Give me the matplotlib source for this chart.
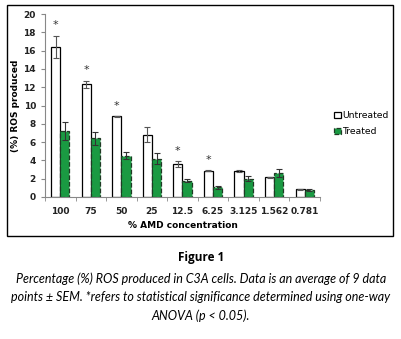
import matplotlib
matplotlib.use("Agg")
import matplotlib.pyplot as plt
import numpy as np
from matplotlib.patches import Rectangle

categories = ["100", "75", "50", "25", "12.5", "6.25", "3.125", "1.562", "0.781"]
untreated = [16.4, 12.3, 8.8, 6.8, 3.6, 2.85, 2.85, 2.15, 0.85]
untreated_err = [1.2, 0.4, 0.05, 0.8, 0.3, 0.05, 0.1, 0.05, 0.05]
treated = [7.2, 6.4, 4.5, 4.2, 1.8, 1.05, 2.0, 2.6, 0.75]
treated_err = [1.0, 0.7, 0.4, 0.6, 0.15, 0.2, 0.3, 0.45, 0.1]
significant = [True, True, True, False, True, True, False, False, False]

fig = plt.figure(figsize=(4.02, 3.39), dpi=100)

# outer frame
fig.patches.append(Rectangle((7/402, 1-236/339), 386/402, 231/339, transform=fig.transFigure,
                             fill=False, edgecolor="black", linewidth=1.0))

ax = fig.add_axes([45/402, 1-197/339, 275/402, 183/339])
x = np.arange(len(categories))
w = 0.3
ax.bar(x - w/2, untreated, w, color="white", edgecolor="black", linewidth=0.9,
       yerr=untreated_err, error_kw=dict(ecolor="#555555", elinewidth=0.8, capsize=2, capthick=0.8),
       label="Untreated")
ax.bar(x + w/2, treated, w, color="#1a9a42", edgecolor="#1f3a24", linewidth=0.9, linestyle="--",
       yerr=treated_err, error_kw=dict(ecolor="#333333", elinewidth=0.8, capsize=2, capthick=0.8),
       label="Treated")
for i, s in enumerate(significant):
    if s:
        ax.text(x[i] - w/2, untreated[i] + untreated_err[i] + 0.6, "*", ha="center", va="bottom",
                fontsize=8, color="#333333")

ax.set_xlim(-0.5, len(categories) - 0.5)
ax.set_ylim(0, 20)
ax.set_yticks(range(0, 21, 2))
ax.set_xticks(x)
ax.set_xticklabels(categories)
ax.set_xticks(np.arange(-0.5, len(categories), 1), minor=True)
ax.tick_params(axis="x", which="major", length=0, labelsize=6.5, pad=7)
ax.tick_params(axis="x", which="minor", length=3, color="#888888")
ax.tick_params(axis="y", labelsize=6.5, length=3, color="#888888")
for lab in ax.get_xticklabels() + ax.get_yticklabels():
    lab.set_fontweight("bold")
    lab.set_color("#222222")
for sp in ["top", "right"]:
    ax.spines[sp].set_visible(False)
ax.spines["left"].set_color("#888888")
ax.spines["bottom"].set_color("#888888")
ax.set_ylabel("(%) ROS produced", fontsize=6.5, fontweight="bold")
ax.yaxis.set_label_coords(-0.09, 0.5)
ax.set_xlabel("% AMD concentration", fontsize=6.5, fontweight="bold", labelpad=4)

leg = fig.legend(loc="upper left", bbox_to_anchor=(326/402, 1-103/339), frameon=False,
                 fontsize=6.7, handlelength=0.7, handleheight=0.7, handletextpad=0.15,
                 labelspacing=0.75)

fig.text(201/402, 1-257/339, "Figure 1", ha="center", va="center", fontsize=8.5,
         fontweight="bold", family="Open Sans")
cap = ("Percentage (%) ROS produced in C3A cells. Data is an average of 9 data\n"
       "points ± SEM. *refers to statistical significance determined using one-way\n"
       "ANOVA (p < 0.05).")
fig.text(201/402, 1-297/339, cap, ha="center", va="center", fontsize=9.0, style="italic",
         family="Lato", linespacing=1.6)

fig.savefig("out.png", dpi=100)
